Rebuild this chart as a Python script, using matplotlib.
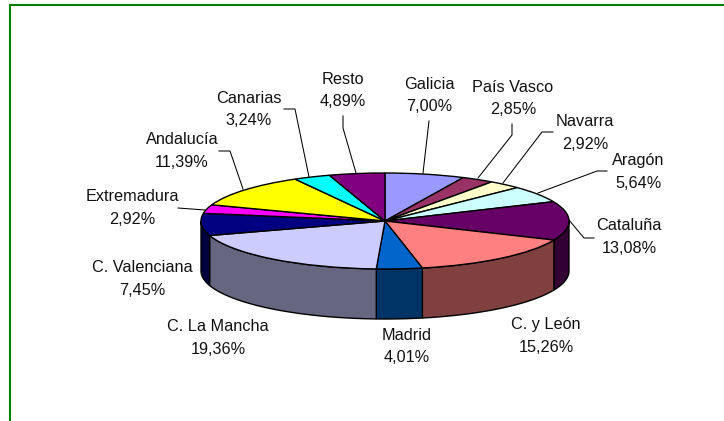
import numpy as np
import matplotlib
matplotlib.use("Agg")
import matplotlib.pyplot as plt

W, H = 724, 421

# Data
regions = ["Galicia", "País Vasco", "Navarra", "Aragón", "Cataluña", "C. y León", "Madrid",
           "C. La Mancha", "C. Valenciana", "Extremadura", "Andalucía", "Canarias", "Resto"]
shares = [7.00, 2.85, 2.92, 5.64, 13.08, 15.26, 4.01, 19.36, 7.45, 2.92, 11.39, 3.24, 4.89]
top_colors = ["#9999FF", "#993366", "#FFFFCC", "#CCFFFF", "#660066", "#FF8080", "#0066CC",
              "#CCCCFF", "#000080", "#FF00FF", "#FFFF00", "#00FFFF", "#800080"]

# Layout (pixels)
CX, CY, RX, RY, DEPTH = 385, 221, 184, 48, 50
label_pos = [(429, 95.5), (513, 98.5), (585, 133), (638, 172), (629, 237), (546, 336), (407, 346.5),
             (218, 338), (142, 279), (132, 208), (182, 151), (249, 109.5), (343, 90.5)]
leaders = [
    [(429, 121), (423, 173)],
    [(512, 124), (512, 135), (478, 178)],
    [(553, 132), (542, 132), (503, 183)],
    [(607, 171), (597, 171), (538, 193)],
    [(594, 238), (584, 238), (569, 220)],
    None, None, None, None,
    [(178, 208), (205, 210)],
    [(219, 151), (230, 151), (243, 189)],
    [(284, 109), (295, 109), (309, 177)],
    [(343, 116), (343, 128), (356, 173)],
]

fig = plt.figure(figsize=(W / 100, H / 100), dpi=100, facecolor="white")

# Pie axes: unit circle stretched into the tilted ellipse
ax = fig.add_axes([0, 0, 1, 1])
ax.pie(shares, colors=top_colors, startangle=90, counterclock=False, radius=1,
       wedgeprops=dict(edgecolor="black", linewidth=1.0, zorder=5))
ax.set_aspect("auto")
ax.set_xlim(-CX / RX, (W - CX) / RX)
ax.set_ylim((CY - H) / RY, CY / RY)
ax.axis("off")

# Side walls of the front half of the pie
drop = DEPTH / RY
edges = np.cumsum([0] + shares) / sum(shares) * 360
for start, end, col in zip(edges[:-1], edges[1:], top_colors):
    a, b = max(start, 90), min(end, 270)
    if a >= b:
        continue
    t = np.radians(np.linspace(a, b, 60))
    x, y = np.sin(t), np.cos(t)
    r, g, bl = matplotlib.colors.to_rgb(col)
    ax.fill(np.r_[x, x[::-1]], np.r_[y, y[::-1] - drop], facecolor=(r / 2, g / 2, bl / 2),
            edgecolor="black", linewidth=1.0, zorder=3)

# Overlay in pixel coordinates: frame, labels, leader lines
ov = fig.add_axes([0, 0, 1, 1], zorder=10)
ov.set_xlim(0, W)
ov.set_ylim(H, 0)
ov.axis("off")
ov.patch.set_alpha(0)

ov.plot([10, 10], [4, H], color="#008000", lw=1.5, solid_capstyle="butt")
ov.plot([9.3, W], [4.5, 4.5], color="#008000", lw=1.5, solid_capstyle="butt")
ov.plot([11, W], [420.5, 420.5], color="#E6F2E6", lw=0.8, solid_capstyle="butt")

for name, val, (lx, ly), lead in zip(regions, shares, label_pos, leaders):
    pct = f"{val:.2f}%".replace(".", ",")
    ov.text(lx, ly, f"{name}\n{pct}", ha="center", va="center", family="Liberation Sans",
            fontsize=11.7, linespacing=1.62, color="#111111")
    if lead:
        ov.plot(*zip(*lead), color="black", lw=0.75, solid_joinstyle="miter")

fig.savefig("out.png", dpi=100, facecolor="white")
